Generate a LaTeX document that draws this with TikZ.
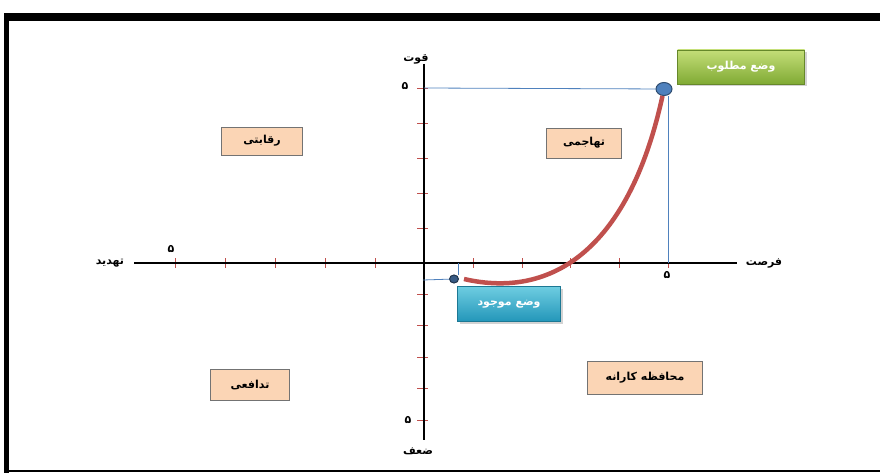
\documentclass[tikz,border=0pt]{standalone}
\usepackage{fontspec}
\newfontfamily\farsi[Script=Arabic,BoldFont={DejaVu Sans Bold}]{DejaVu Sans}
\TeXXeTstate=1
\usetikzlibrary{shadows,shapes.geometric}
\definecolor{tickred}{RGB}{192,80,77}
\definecolor{guideblue}{RGB}{79,129,189}
\definecolor{peach}{RGB}{251,213,181}
\definecolor{greentop}{RGB}{196,222,120}
\definecolor{greenbot}{RGB}{128,170,52}
\definecolor{tealtop}{RGB}{110,205,225}
\definecolor{tealbot}{RGB}{35,150,185}
\begin{document}
\begin{tikzpicture}[x=1pt,y=-1pt,
  fa/.style={font=\farsi\bfseries\fontsize{11}{13}\selectfont},
  quadbox/.style={draw=black!55, fill=peach, fa},
  posbox/.style={fa, text=white, drop shadow={opacity=0.35, shadow xshift=2pt, shadow yshift=-2pt}},
  tickmark/.style={tickred, line width=0.8pt},
  guide/.style={guideblue, line width=0.8pt}]
\useasboundingbox (0,0) rectangle (880,473);
\fill[black] (4,13) rectangle (880,21);
\fill[black] (4,13) rectangle (9,473);
\fill[black] (4,470) rectangle (880,472);

\coordinate (O) at (424,263);
\coordinate (xl) at (134,263);
\coordinate (xr) at (737,263);
\coordinate (yt) at (424,64);
\coordinate (yb) at (424,440);
\coordinate (g5x) at (668,263);
\coordinate (g5y) at (424,88);
\coordinate (c1x) at (458,263);
\coordinate (c1y) at (423,280);

\foreach \x in {175,225,275,325,375,473.6,522.2,570.8,619.4,668}
  \draw[tickmark] (\x,258) -- (\x,268);
\foreach \y in {88,123,158,193,228,294.4,325.8,357.2,388.6,420}
  \draw[tickmark] (417,\y) -- (428,\y);

\draw[black, line width=1.3pt] (xl) -- (xr);
\draw[black, line width=1.3pt] (yt) -- (yb);

\node[fa] (tahdid) at (110,263) {\beginR تهدید\endR};
\node[fa] (forsat) at (764,263) {\beginR فرصت\endR};
\node[fa] (ghovat) at (416,59) {\beginR قوت\endR};
\node[fa] (zaaf) at (418,451) {\beginR ضعف\endR};
\node[fa] (n5l) at (171,249) {۵};
\node[fa] (n5r) at (667,275) {۵};
\node[fa] (n5t) at (405,86) {۵};
\node[fa] (n5b) at (408,420) {۵};

\node[ellipse, draw=guideblue!60!black, fill=guideblue, line width=1pt, minimum width=16, minimum height=13, inner sep=0pt] (goal) at (664,89) {};
\node[ellipse, draw=guideblue!40!black, fill=guideblue!70!black, line width=1pt, minimum width=9, minimum height=8, inner sep=0pt] (cur) at (454,279) {};

\draw[guide] (g5y) -- (goal);
\draw[guide] (g5x) -- (goal.south -| g5x);
\draw[guide] (c1y) -- (cur);
\draw[guide] (c1x) -- (cur.north -| c1x);

\draw[tickred, line width=4.5pt] ([xshift=5pt]cur.east) .. controls (555,300) and (630,245) .. (goal);

\node[quadbox, minimum width=81, minimum height=28] (reghabati) at (262,141) {\beginR رقابتی\endR};
\node[quadbox, minimum width=75, minimum height=30] (tahajomi) at (584,143) {\beginR تهاجمی\endR};
\node[quadbox, minimum width=79, minimum height=31] (tadafoi) at (250,385) {\beginR تدافعی\endR};
\node[quadbox, minimum width=115, minimum height=33] (mohafeze) at (645,378) {\beginR محافظه کارانه\endR};

\node[posbox, top color=greentop, bottom color=greenbot, draw=greenbot!80!black, minimum width=127, minimum height=34] (matlub) at (741,67) {\beginR وضع مطلوب\endR};
\node[posbox, top color=tealtop, bottom color=tealbot, draw=tealbot!80!black, minimum width=103, minimum height=35] (mojud) at (509,304) {\beginR وضع موجود\endR};
\end{tikzpicture}
\end{document}
